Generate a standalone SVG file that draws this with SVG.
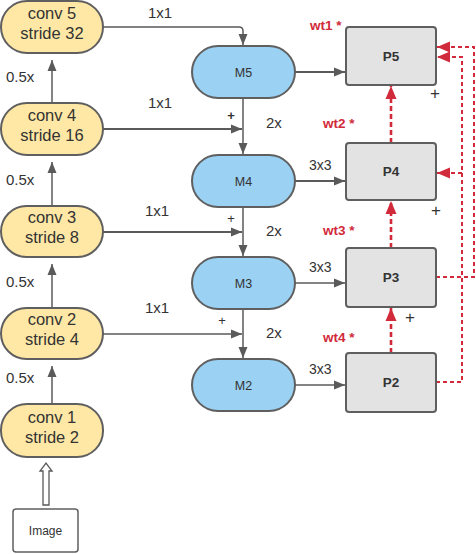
<svg xmlns="http://www.w3.org/2000/svg" width="476" height="554" viewBox="0 0 476 554">
<style>
text{font-family:"Liberation Sans",Arial,sans-serif;fill:#333}
.y rect{fill:#ffe8a5;stroke:#5f5f5f;stroke-width:2}
.y text{font-size:16.5px;text-anchor:middle}
.m rect{fill:#9bd1f2;stroke:#5f5f5f;stroke-width:2}
.m text{font-size:12.5px;text-anchor:middle}
.p rect{fill:#e3e3e3;stroke:#5f5f5f;stroke-width:2}
.p text{font-size:13.5px;font-weight:bold;text-anchor:middle}
.ln{stroke:#5a5a5a;stroke-width:1.5;fill:none}
.thk{stroke-width:2.2}
.rd{stroke:#d12a3a;stroke-width:2;fill:none;stroke-dasharray:4 3}
.rdv{stroke:#d12a3a;stroke-width:2.6;fill:none;stroke-dasharray:5 3}
.lb{font-size:15px}
.lb3{font-size:14px}
.wt{font-size:13.5px;font-weight:bold;fill:#d12a3a}
.pl{font-size:13px}
.pc{stroke:#222;stroke-width:1.2;fill:none}
</style>
<defs>
<marker id="ga" markerUnits="userSpaceOnUse" markerWidth="12" markerHeight="10" refX="11" refY="5" orient="auto"><path d="M0,0.5 L11,5 L0,9.5 Z" fill="#5a5a5a"/></marker>
<marker id="ra" markerUnits="userSpaceOnUse" markerWidth="14" markerHeight="12" refX="13" refY="6" orient="auto"><path d="M0,0.5 L13,6 L0,11.5 Z" fill="#d12a3a"/></marker>
</defs>
<g id="connectors">
<path class="ln" d="M52,404 L52,366" marker-end="url(#ga)"/>
<path class="ln" d="M52,308 L52,264" marker-end="url(#ga)"/>
<path class="ln" d="M52,206 L52,162" marker-end="url(#ga)"/>
<path class="ln" d="M52,103 L52,60" marker-end="url(#ga)"/>
<path d="M43,505 L43,471 L40,471 L46,463 L52,471 L49,471 L49,505 Z" fill="#fff" stroke="#5a5a5a" stroke-width="1.3"/>
<path class="ln" d="M103,27 L239,27 Q243,27 243,31 L243,45" marker-end="url(#ga)"/>
<path class="ln thk" d="M103,129 L242,129" marker-end="url(#ga)"/>
<path class="ln thk" d="M103,232 L242,232" marker-end="url(#ga)"/>
<path class="ln" d="M103,334 L242,334" marker-end="url(#ga)"/>
<path class="ln" d="M243,98 L243,154" marker-end="url(#ga)"/>
<path class="ln" d="M243,207 L243,256" marker-end="url(#ga)"/>
<path class="ln" d="M243,309 L243,358" marker-end="url(#ga)"/>
<path class="ln thk" d="M295,72 L345,72" marker-end="url(#ga)"/>
<path class="ln thk" d="M295,181 L345,181" marker-end="url(#ga)"/>
<path class="ln" d="M295,283 L345,283" marker-end="url(#ga)"/>
<path class="ln" d="M295,385 L345,385" marker-end="url(#ga)"/>
<path class="rdv" d="M391,143 L391,86" marker-end="url(#ra)"/>
<path class="rdv" d="M391,248 L391,201" marker-end="url(#ra)"/>
<path class="rdv" d="M391,353 L391,308" marker-end="url(#ra)"/>
<path class="rd" d="M436,277 L474,277 L474,47 L437,47" marker-end="url(#ra)"/>
<path class="rd" d="M436,382 L462,382 L462,57 L437,57" marker-end="url(#ra)"/>
<path class="rd" d="M462,173 L437,173" marker-end="url(#ra)"/>
</g>
<g id="conv5" class="y"><rect x="1" y="1" width="102" height="52" rx="26"/><text x="52" y="19">conv 5</text><text x="52" y="39">stride 32</text></g>
<g id="conv4" class="y"><rect x="1" y="103" width="102" height="52" rx="26"/><text x="52" y="121">conv 4</text><text x="52" y="141">stride 16</text></g>
<g id="conv3" class="y"><rect x="1" y="206" width="102" height="51" rx="25.5"/><text x="52" y="223">conv 3</text><text x="52" y="243">stride 8</text></g>
<g id="conv2" class="y"><rect x="1" y="308" width="102" height="51" rx="25.5"/><text x="52" y="325">conv 2</text><text x="52" y="345">stride 4</text></g>
<g id="conv1" class="y"><rect x="1" y="404" width="102" height="53" rx="26"/><text x="52" y="423">conv 1</text><text x="52" y="443">stride 2</text></g>
<g id="image"><rect x="13" y="509" width="65" height="43" rx="3" fill="#fff" stroke="#5f5f5f" stroke-width="1.5"/><text x="45.5" y="535" font-size="12" text-anchor="middle">Image</text></g>
<g id="M5" class="m"><rect x="192" y="46" width="103" height="52" rx="26"/><text x="243.5" y="76.5">M5</text></g>
<g id="M4" class="m"><rect x="192" y="155" width="103" height="52" rx="26"/><text x="243.5" y="185.5">M4</text></g>
<g id="M3" class="m"><rect x="192" y="257" width="103" height="52" rx="26"/><text x="243.5" y="287.5">M3</text></g>
<g id="M2" class="m"><rect x="192" y="359" width="103" height="52" rx="26"/><text x="243.5" y="389.5">M2</text></g>
<g id="P5" class="p"><rect x="346" y="27" width="90" height="58" rx="3"/><text x="391" y="60.5">P5</text></g>
<g id="P4" class="p"><rect x="346" y="143" width="90" height="57" rx="3"/><text x="391" y="176">P4</text></g>
<g id="P3" class="p"><rect x="346" y="248" width="90" height="59" rx="3"/><text x="391" y="282">P3</text></g>
<g id="P2" class="p"><rect x="346" y="353" width="90" height="59" rx="3"/><text x="391" y="387">P2</text></g>
<g id="labels">
<text class="lb" x="6" y="82" font-size="16">0.5x</text>
<text class="lb" x="6" y="185" font-size="16">0.5x</text>
<text class="lb" x="6" y="287" font-size="16">0.5x</text>
<text class="lb" x="6" y="383" font-size="16">0.5x</text>
<text class="lb" x="148" y="18">1x1</text>
<text class="lb" x="148" y="108">1x1</text>
<text class="lb" x="145" y="216">1x1</text>
<text class="lb" x="145" y="313">1x1</text>
<text class="lb" x="266" y="128">2x</text>
<text class="lb" x="266" y="236">2x</text>
<text class="lb" x="266" y="338">2x</text>
<text class="lb3" x="309" y="170">3x3</text>
<text class="lb3" x="309" y="272">3x3</text>
<text class="lb3" x="309" y="374">3x3</text>
<text class="pl" x="231" y="120" text-anchor="middle" font-weight="bold">+</text>
<text class="pl" x="231" y="223" text-anchor="middle">+</text>
<text class="pl" x="222" y="325" text-anchor="middle">+</text>
<text x="435" y="99" font-size="17" fill="#222" text-anchor="middle">+</text>
<text x="436" y="216" font-size="17" fill="#222" text-anchor="middle">+</text>
<text x="410" y="323" font-size="17" fill="#222" text-anchor="middle">+</text>
<text class="wt" x="310" y="30">wt1 *</text>
<text class="wt" x="323" y="128">wt2 *</text>
<text class="wt" x="323" y="235">wt3 *</text>
<text class="wt" x="323" y="342">wt4 *</text>
</g>
</svg>
